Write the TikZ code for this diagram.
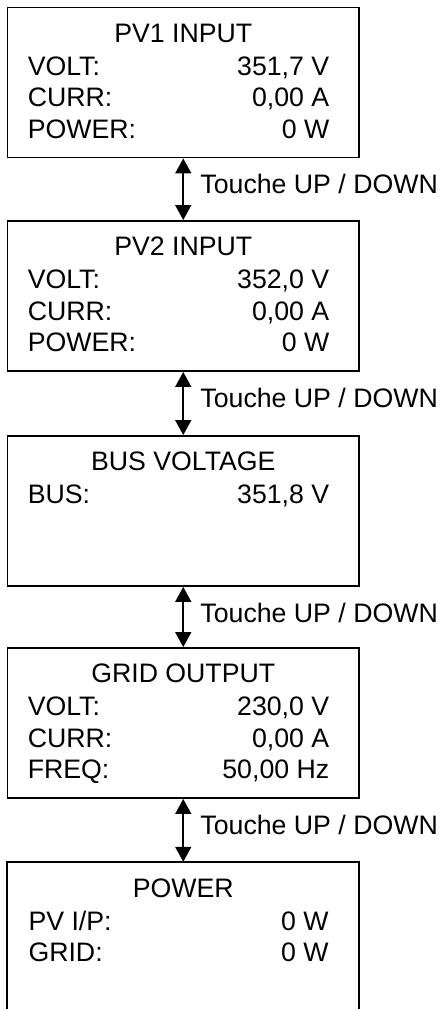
\documentclass[tikz,border=0pt]{standalone}
\usepackage{fontspec}
\setmainfont{Liberation Sans}
\usetikzlibrary{arrows.meta,calc}
\tikzset{
  screen/.style={draw, line width=1.9pt, minimum width=351.5pt, minimum height=150pt, inner sep=0pt},
  openscreen/.style={minimum width=351.5pt, minimum height=150pt, inner sep=0pt},
  txt/.style={inner sep=0pt, font=\fontsize{26.7}{32}\selectfont},
  nav/.style={line width=1.6pt, {Triangle[width=16pt,length=15pt]}-{Triangle[width=16pt,length=15pt]}},
}
\begin{document}
\begin{tikzpicture}[x=1pt,y=-1pt]
\useasboundingbox (0,0) rectangle (441,1009);

% screens
\node[screen] (b1) at (183.25,82.5) {};
\node[screen] (b2) at (183.25,296) {};
\node[screen] (b3) at (183.25,511) {};
\node[screen] (b4) at (183.25,723) {};
\node[openscreen] (b5) at (183.25,937) {};
\draw[line width=1.9pt] (b5.south west) -- (b5.north west) -- (b5.north east) -- (b5.south east);

% screen 1
\node[txt, anchor=base] (b1t) at ($(b1.north)+(0,35.5)$) {PV1 INPUT};
\node[txt, anchor=base west] (b1l1) at ($(b1.north west)+(21,68.5)$) {VOLT:};
\node[txt, anchor=base west] (b1l2) at ($(b1.north west)+(21,100)$) {CURR:};
\node[txt, anchor=base west] (b1l3) at ($(b1.north west)+(21,131.5)$) {POWER:};
\node[txt, anchor=base east] (b1r1) at ($(b1.north east)+(-30.5,68.5)$) {351,7 V};
\node[txt, anchor=base east] (b1r2) at ($(b1.north east)+(-30.5,100)$) {0,00 A};
\node[txt, anchor=base east] (b1r3) at ($(b1.north east)+(-30.5,131.5)$) {0 W};

% screen 2
\node[txt, anchor=base] (b2t) at ($(b2.north)+(0,35.5)$) {PV2 INPUT};
\node[txt, anchor=base west] (b2l1) at ($(b2.north west)+(21,68.5)$) {VOLT:};
\node[txt, anchor=base west] (b2l2) at ($(b2.north west)+(21,100)$) {CURR:};
\node[txt, anchor=base west] (b2l3) at ($(b2.north west)+(21,131.5)$) {POWER:};
\node[txt, anchor=base east] (b2r1) at ($(b2.north east)+(-30.5,68.5)$) {352,0 V};
\node[txt, anchor=base east] (b2r2) at ($(b2.north east)+(-30.5,100)$) {0,00 A};
\node[txt, anchor=base east] (b2r3) at ($(b2.north east)+(-30.5,131.5)$) {0 W};

% screen 3
\node[txt, anchor=base] (b3t) at ($(b3.north)+(0,35.5)$) {BUS VOLTAGE};
\node[txt, anchor=base west] (b3l1) at ($(b3.north west)+(21,68.5)$) {BUS:};
\node[txt, anchor=base east] (b3r1) at ($(b3.north east)+(-30.5,68.5)$) {351,8 V};

% screen 4
\node[txt, anchor=base] (b4t) at ($(b4.north)+(0,35.5)$) {GRID OUTPUT};
\node[txt, anchor=base west] (b4l1) at ($(b4.north west)+(21,68.5)$) {VOLT:};
\node[txt, anchor=base west] (b4l2) at ($(b4.north west)+(21,100)$) {CURR:};
\node[txt, anchor=base west] (b4l3) at ($(b4.north west)+(21,131.5)$) {FREQ:};
\node[txt, anchor=base east] (b4r1) at ($(b4.north east)+(-30.5,68.5)$) {230,0 V};
\node[txt, anchor=base east] (b4r2) at ($(b4.north east)+(-30.5,100)$) {0,00 A};
\node[txt, anchor=base east] (b4r3) at ($(b4.north east)+(-30.5,131.5)$) {50,00 Hz};

% screen 5
\node[txt, anchor=base] (b5t) at ($(b5.north)+(0,35.5)$) {POWER};
\node[txt, anchor=base west] (b5l1) at ($(b5.north west)+(21,68.5)$) {PV I/P:};
\node[txt, anchor=base west] (b5l2) at ($(b5.north west)+(21,100)$) {GRID:};
\node[txt, anchor=base east] (b5r1) at ($(b5.north east)+(-30.5,68.5)$) {0 W};
\node[txt, anchor=base east] (b5r2) at ($(b5.north east)+(-30.5,100)$) {0 W};

% navigation arrows
\draw[nav] (b1.south) -- (b2.north);
\draw[nav] (b2.south) -- (b3.north);
\draw[nav] (b3.south) -- (b4.north);
\draw[nav] (b4.south) -- (b5.north);

\node[txt, anchor=base west] (k1) at ($(b1.south)+(17,35.5)$) {Touche UP / DOWN};
\node[txt, anchor=base west] (k2) at ($(b2.south)+(17,35.5)$) {Touche UP / DOWN};
\node[txt, anchor=base west] (k3) at ($(b3.south)+(17,35.5)$) {Touche UP / DOWN};
\node[txt, anchor=base west] (k4) at ($(b4.south)+(17,35.5)$) {Touche UP / DOWN};
\end{tikzpicture}
\end{document}
